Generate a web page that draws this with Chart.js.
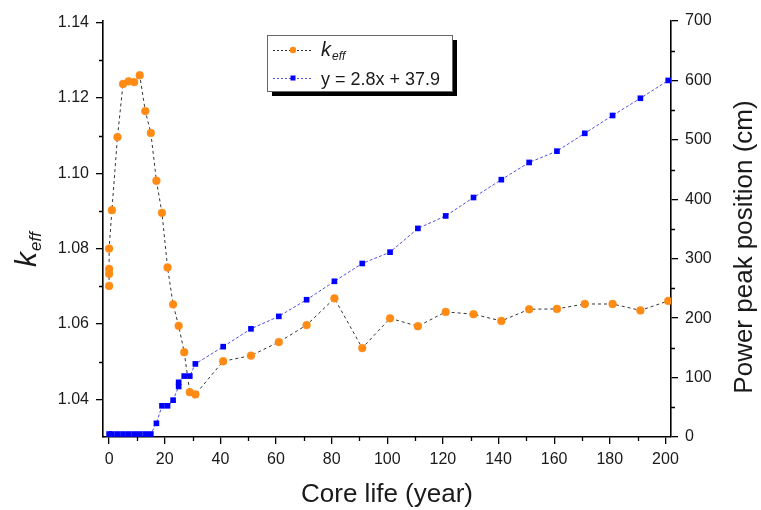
<!DOCTYPE html>
<html>
<head>
<meta charset="utf-8">
<script src="https://cdn.jsdelivr.net/npm/chart.js@4"></script>
<style>
  html, body { margin: 0; padding: 0; background: #fff; }
  canvas { display: block; }
</style>
</head>
<body>
<canvas id="chart" width="761" height="510"></canvas>
<script>
const keffYears = [0, 0, 0, 0, 1, 3, 5, 7, 9, 11, 13, 15, 17, 19, 21, 23, 25, 27, 29, 31,
    41, 51, 61, 71, 81, 91, 101, 111, 121, 131, 141, 151, 161, 171, 181, 191, 201]
const keffValues = [1.0701, 1.0733, 1.0746, 1.0800, 1.0902, 1.1096, 1.1237, 1.1244, 1.1242, 1.1260,
    1.1165, 1.1107, 1.0980, 1.0895, 1.0750, 1.0652, 1.0595, 1.0525, 1.0419, 1.0413,
    1.0501, 1.0516, 1.0552, 1.0597, 1.0668, 1.0536, 1.0615, 1.0594, 1.0632, 1.0626,
    1.0608, 1.0639, 1.0640, 1.0653, 1.0653, 1.0636, 1.0661]

const peakYears = [0, 1, 3, 5, 7, 9, 11, 13, 15, 17, 19, 21, 23, 25, 25, 27, 29, 31,
    41, 51, 61, 71, 81, 91, 101, 111, 121, 131, 141, 151, 161, 171, 181, 191, 201]
const peakValues = [5, 5, 5, 5, 5, 5, 5, 5, 5, 23, 52.5, 52.5, 62, 85, 92, 102.5, 102.5, 123,
    152, 182, 203, 231, 262, 292, 311, 351, 372, 403, 433, 462, 481, 511, 541, 570, 600]

const yearTicks = [0, 20, 40, 60, 80, 100, 120, 140, 160, 180, 200]
const keffTicks = [1.04, 1.06, 1.08, 1.10, 1.12, 1.14]
const peakTicks = [0, 100, 200, 300, 400, 500, 600, 700]

const seriesLabels = ["eff", "y = 2.8x + 37.9"]
const xTitle = "Core life (year)"
const rightTitle = "Power peak position (cm)"

const ORANGE = "#ff8a14"
const BLUE = "#0000ff"
const FONT = "'Liberation Sans', Arial, sans-serif"

Chart.defaults.font.family = FONT
Chart.defaults.color = "#1a1a1a"

const halves = t => t.slice(1).map((v, i) => (v + t[i]) / 2)

const setTicks = list => scale => { scale.ticks = list.map(value => ({ value })) }

const axisGrid = { drawOnChartArea: false, drawTicks: true, tickLength: 7, color: "#000", lineWidth: 1.3 }
const axisBorder = { display: true, color: "#000", width: 1.6 }

// minor ticks, axis titles and the boxed legend
const extras = {
    id: "extras",
    afterDraw(chart) {
        const { ctx, chartArea, scales: { x, yL, yR } } = chart
        ctx.save()
        ctx.strokeStyle = "#000"
        ctx.lineWidth = 1.3
        ctx.beginPath()
        halves(yearTicks).forEach(v => {
            const px = Math.round(x.getPixelForValue(v)) + 0.5
            ctx.moveTo(px, chartArea.bottom); ctx.lineTo(px, chartArea.bottom + 4)
        })
        halves(keffTicks).forEach(v => {
            const py = Math.round(yL.getPixelForValue(v)) + 0.5
            ctx.moveTo(chartArea.left, py); ctx.lineTo(chartArea.left - 4, py)
        })
        halves(peakTicks).forEach(v => {
            const py = Math.round(yR.getPixelForValue(v)) + 0.5
            ctx.moveTo(chartArea.right, py); ctx.lineTo(chartArea.right + 4, py)
        })
        ctx.stroke()

        // axis titles
        ctx.fillStyle = "#1a1a1a"
        ctx.font = `26px ${FONT}`
        ctx.textAlign = "center"
        ctx.textBaseline = "alphabetic"
        ctx.fillText(xTitle, (chartArea.left + chartArea.right) / 2, 502)

        ctx.save()
        ctx.translate(752, 247)
        ctx.rotate(-Math.PI / 2)
        ctx.fillText(rightTitle, 0, 0)
        ctx.restore()

        ctx.save()
        ctx.translate(36, 250)
        ctx.rotate(-Math.PI / 2)
        ctx.textAlign = "left"
        ctx.font = `italic 30px ${FONT}`
        const wk = ctx.measureText("k").width
        ctx.font = `italic 17px ${FONT}`
        const we = ctx.measureText(seriesLabels[0]).width
        const start = -(wk + we) / 2
        ctx.font = `italic 30px ${FONT}`
        ctx.fillText("k", start, 0)
        ctx.font = `italic 17px ${FONT}`
        ctx.fillText(seriesLabels[0], start + wk + 1, 5)
        ctx.restore()

        // legend box with drop shadow
        const bx = 267, by = 35, bw = 185, bh = 56
        ctx.fillStyle = "#000"
        ctx.fillRect(bx + 5, by + 5, bw, bh)
        ctx.fillStyle = "#fff"
        ctx.fillRect(bx, by, bw, bh)
        ctx.strokeStyle = "#666"
        ctx.lineWidth = 1
        ctx.strokeRect(bx + 0.5, by + 0.5, bw, bh)

        const rows = [
            { y: 50, line: "#333", color: ORANGE, shape: "circle" },
            { y: 78, line: "#5050e0", color: BLUE, shape: "rect" }
        ]
        rows.forEach((r, i) => {
            ctx.strokeStyle = r.line
            ctx.lineWidth = 1
            ctx.setLineDash([2, 2])
            ctx.beginPath()
            ctx.moveTo(273, r.y + 0.5); ctx.lineTo(313, r.y + 0.5)
            ctx.stroke()
            ctx.setLineDash([])
            ctx.fillStyle = r.color
            if (r.shape === "circle") {
                ctx.beginPath(); ctx.arc(293, r.y, 3.2, 0, Math.PI * 2); ctx.fill()
            } else {
                ctx.fillRect(290.5, r.y - 2.5, 5, 5)
            }
            ctx.fillStyle = "#1a1a1a"
            ctx.textAlign = "left"
            ctx.textBaseline = "alphabetic"
            if (i === 0) {
                ctx.font = `italic 20px ${FONT}`
                ctx.fillText("k", 321, r.y + 6)
                const w = ctx.measureText("k").width
                ctx.font = `italic 12px ${FONT}`
                ctx.fillText(seriesLabels[0], 321 + w + 1, r.y + 10)
            } else {
                ctx.font = `18px ${FONT}`
                ctx.fillText(seriesLabels[1], 321, r.y + 6.5)
            }
        })
        ctx.restore()
    }
}

new Chart(document.getElementById("chart"), {
    type: "scatter",
    data: {
        datasets: [{
            label: "keff",
            data: keffYears.map((x, i) => ({ x, y: keffValues[i] })),
            yAxisID: "yL",
            showLine: true,
            borderColor: "#333",
            borderWidth: 1,
            borderDash: [3, 3],
            pointRadius: 3.9,
            pointBackgroundColor: ORANGE,
            pointBorderColor: ORANGE,
            pointBorderWidth: 0.5
        }, {
            label: seriesLabels[1],
            data: peakYears.map((x, i) => ({ x, y: peakValues[i] })),
            yAxisID: "yR",
            showLine: true,
            borderColor: "#5050e0",
            borderWidth: 1,
            borderDash: [3, 2],
            pointStyle: "rect",
            pointRadius: 4,
            pointBackgroundColor: BLUE,
            pointBorderColor: BLUE,
            pointBorderWidth: 0
        }]
    },
    options: {
        responsive: false,
        animation: false,
        devicePixelRatio: 1,
        layout: { padding: { top: 21, left: 0, right: 0, bottom: 0 } },
        plugins: { legend: { display: false }, tooltip: { enabled: false } },
        scales: {
            x: {
                type: "linear",
                min: -2.2,
                max: 202,
                afterBuildTicks: setTicks(yearTicks),
                afterFit: s => { s.height = 73 },
                grid: axisGrid,
                border: axisBorder,
                ticks: { font: { size: 16 }, padding: 6, maxRotation: 0 }
            },
            yL: {
                type: "linear",
                position: "left",
                min: 1.03,
                max: 1.1404,
                afterBuildTicks: setTicks(keffTicks),
                afterFit: s => { s.width = 103 },
                grid: axisGrid,
                border: axisBorder,
                ticks: { font: { size: 16 }, padding: 7, callback: v => v.toFixed(2) }
            },
            yR: {
                type: "linear",
                position: "right",
                min: 0,
                max: 700,
                afterBuildTicks: setTicks(peakTicks),
                afterFit: s => { s.width = 90 },
                grid: axisGrid,
                border: axisBorder,
                ticks: { font: { size: 16 }, padding: 7 }
            }
        }
    },
    plugins: [extras]
})
</script>
</body>
</html>
